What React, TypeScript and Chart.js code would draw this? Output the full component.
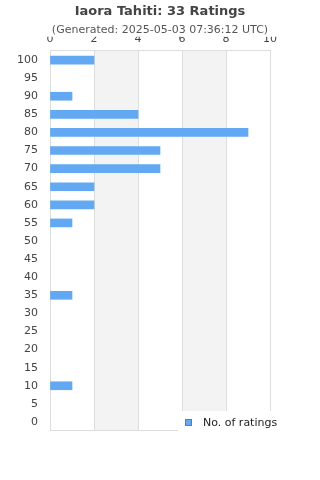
import React, { useEffect, useRef } from "react";
import { Chart, registerables } from "chart.js";

Chart.register(...registerables);

const TITLE = "Iaora Tahiti: 33 Ratings";
const SUBTITLE = "(Generated: 2025-05-03 07:36:12 UTC)";
const SERIES_LABEL = "No. of ratings";
const categories = ["100", "95", "90", "85", "80", "75", "70", "65", "60", "55", "50", "45", "40", "35", "30", "25", "20", "15", "10", "5", "0"];
const ratingCounts = [2, 0, 1, 4, 9, 5, 5, 2, 2, 1, 0, 0, 0, 1, 0, 0, 0, 0, 1, 0, 0];
const xMin = 0;
const xMax = 10;
const xStep = 2;
const shadedBands: [number, number][] = [[2, 4], [6, 8]];

const FONT = "'DejaVu Sans', sans-serif";
const BAR_COLOR = "#62a8f2";
const GRID_COLOR = "#dddddd";

const bandsPlugin = {
  id: "bands",
  beforeDraw(chart: any) {
    const { ctx, chartArea, scales } = chart;
    const x = scales.x;
    ctx.save();
    ctx.fillStyle = "#f3f3f3";
    for (const [a, b] of shadedBands) {
      const x1 = x.getPixelForValue(a);
      const x2 = x.getPixelForValue(b);
      ctx.fillRect(x1, chartArea.top - 1, x2 - x1, chartArea.bottom - chartArea.top);
    }
    ctx.restore();
  },
  beforeDatasetsDraw(chart: any) {
    const { ctx, chartArea } = chart;
    ctx.save();
    ctx.strokeStyle = GRID_COLOR;
    ctx.lineWidth = 1;
    const l = Math.round(chartArea.left) + 0.5;
    const r = Math.round(chartArea.right) + 0.5;
    const t = Math.round(chartArea.top) - 0.5;
    const b = Math.round(chartArea.bottom) - 0.5;
    ctx.strokeRect(l, t, r - l, b - t);
    ctx.restore();
  },
};

const legendPlugin = {
  id: "cornerLegend",
  afterDraw(chart: any) {
    const { ctx, chartArea } = chart;
    const label = chart.data.datasets[0].label;
    const r = chartArea.right;
    const b = chartArea.bottom - 1;
    ctx.save();
    ctx.fillStyle = "#ffffff";
    ctx.fillRect(r - 92, b - 19, 110, 23);
    ctx.fillStyle = BAR_COLOR;
    ctx.fillRect(r - 85, b - 11, 7, 7);
    ctx.strokeStyle = "#777777";
    ctx.lineWidth = 1;
    ctx.strokeRect(r - 84.5, b - 10.5, 6, 6);
    ctx.fillStyle = "#222222";
    ctx.font = `11px ${FONT}`;
    ctx.textBaseline = "middle";
    ctx.textAlign = "left";
    ctx.fillText(label, r - 67, b - 7);
    ctx.restore();
  },
};

export default function App() {
  const canvasRef = useRef<HTMLCanvasElement | null>(null);

  useEffect(() => {
    document.body.style.margin = "0";
    const canvas = canvasRef.current;
    if (!canvas) return;
    const chart = new Chart(canvas, {
      type: "bar",
      data: {
        labels: categories,
        datasets: [
          {
            label: SERIES_LABEL,
            data: ratingCounts,
            backgroundColor: (c: any) => (c.raw === 0 ? "rgba(0,0,0,0)" : BAR_COLOR),
            borderWidth: 0,
            barThickness: 8,
          },
        ],
      },
      plugins: [bandsPlugin, legendPlugin],
      options: {
        indexAxis: "y",
        responsive: false,
        animation: false,
        devicePixelRatio: 1,
        layout: { padding: { left: 0, right: 0, top: 0, bottom: 49 } },
        plugins: {
          legend: { display: false },
          tooltip: { enabled: false },
          title: {
            display: true,
            text: TITLE,
            color: "#444444",
            font: { family: FONT, size: 13, weight: "bold" },
            padding: { top: 4, bottom: 0 },
          },
          subtitle: {
            display: true,
            text: SUBTITLE,
            color: "#555555",
            font: { family: FONT, size: 11 },
            padding: { top: 4, bottom: 0 },
          },
        },
        scales: {
          x: {
            position: "top",
            min: xMin,
            max: xMax,
            ticks: {
              stepSize: xStep,
              color: "#444444",
              font: { family: FONT, size: 11 },
              padding: 5,
              maxRotation: 0,
            },
            grid: { color: GRID_COLOR, drawTicks: false },
            border: { display: false },
            afterFit(scale: any) {
              scale.height = 14.2;
            },
          },
          y: {
            ticks: {
              color: "#444444",
              font: { family: FONT, size: 11 },
              padding: 12,
              autoSkip: false,
            },
            grid: { display: false, drawTicks: false },
            border: { display: false },
            afterFit(scale: any) {
              scale.width = 50;
            },
          },
          yRight: {
            type: "category",
            position: "right",
            display: true,
            ticks: { display: false },
            grid: { display: false, drawTicks: false },
            border: { display: false },
            afterFit(scale: any) {
              scale.width = 50;
            },
          },
        },
      },
    } as any);
    return () => chart.destroy();
  }, []);

  return (
    <div style={{ width: 320, height: 480 }}>
      <canvas ref={canvasRef} width={320} height={480} style={{ display: "block" }} />
    </div>
  );
}
